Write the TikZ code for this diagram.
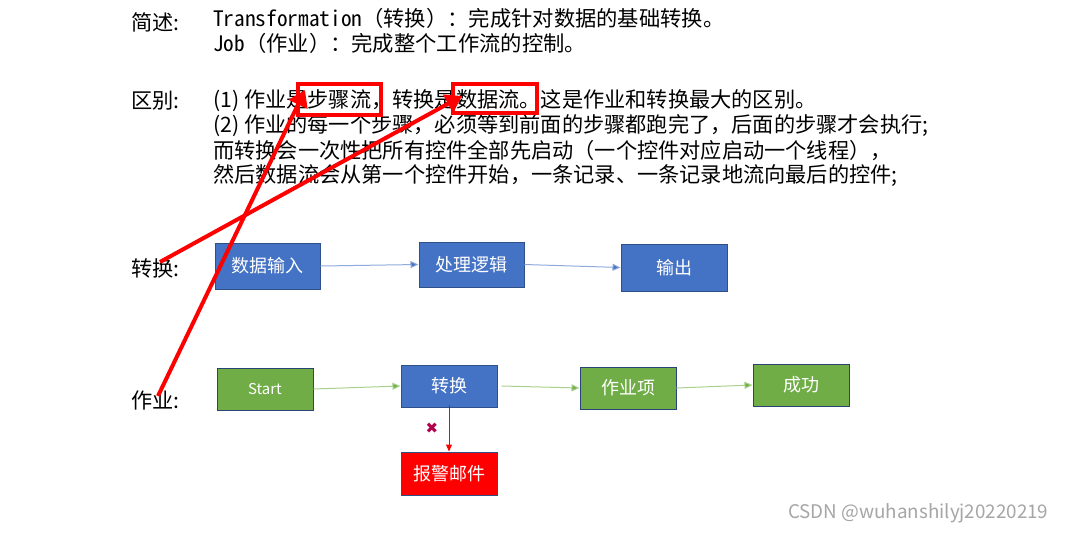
\documentclass[tikz,border=0pt]{standalone}
\usepackage{fontspec}
\setmainfont{Noto Sans CJK SC}
\newfontfamily\monocjk{Noto Sans Mono CJK SC}
\newfontfamily\djv{DejaVu Sans}
\usetikzlibrary{arrows.meta}
\definecolor{bl}{HTML}{4472C4}
\definecolor{gr}{HTML}{70AD47}
\definecolor{bll}{HTML}{8FAADC}
\definecolor{grl}{HTML}{A9D18E}
\tikzset{
 box/.style={draw=bl!70!black,line width=1pt,text=white,font=\fontsize{18}{18}\selectfont,inner sep=0pt},
 bbox/.style={box,fill=bl},
 gbox/.style={box,fill=gr,draw=bl!60!black},
 rbox/.style={box,fill=red},
 txt/.style={anchor=west,inner sep=0pt,font=\fontsize{21.2}{21.2}\selectfont},
 mtxt/.style={anchor=west,inner sep=0pt,font=\monocjk\fontsize{21.3}{21.3}\selectfont},
 barr/.style={draw=bll,line width=1pt,-{Triangle[length=8pt,width=7pt,fill=bl]}},
 garr/.style={draw=grl,line width=1pt,-{Triangle[length=8pt,width=7pt,fill=gr]}},
 redarr/.style={draw=red,line width=4pt,-{Triangle[length=16pt,width=20pt]}},
 hl/.style={draw=red,line width=4pt}
}
\begin{document}
\begin{tikzpicture}[x=1pt,y=-1pt]
\useasboundingbox[fill=white] (0,0) rectangle (1071,533);
\node[txt] (s1) at (131,22) {简述:};
\node[mtxt] (t1) at (213,18) {Transformation（转换）：完成针对数据的基础转换。};
\node[mtxt] (t2) at (213,43) {Job（作业）：完成整个工作流的控制。};
\node[txt] (s2) at (131,101) {区别:};
\node[txt] (l1) at (213,101) {(1) 作业是步骤流，转换是数据流。这是作业和转换最大的区别。};
\node[txt] (l2) at (213,126) {(2) 作业的每一个步骤，必须等到前面的步骤都跑完了，后面的步骤才会执行;};
\node[txt] (l3) at (213,151) {而转换会一次性把所有控件全部先启动（一个控件对应启动一个线程），};
\node[txt] (l4) at (213,176) {然后数据流会从第一个控件开始，一条记录、一条记录地流向最后的控件;};
\node[txt] (lz) at (131,268) {转换:};
\node[txt] (lj) at (131,400) {作业:};
\node[bbox,minimum width=105pt,minimum height=46pt] (a1) at (267.5,266) {数据输入};
\node[bbox,minimum width=105pt,minimum height=45pt] (a2) at (471.5,264.5) {处理逻辑};
\node[bbox,minimum width=106pt,minimum height=47pt] (a3) at (674,267.5) {输出};
\node[gbox,minimum width=96pt,minimum height=42pt] (b1) at (265,389) {\fontsize{15}{15}\selectfont Start};
\node[bbox,minimum width=96pt,minimum height=42pt] (b2) at (449,386) {转换};
\node[gbox,minimum width=96pt,minimum height=42pt] (b3) at (628,388) {作业项};
\node[gbox,minimum width=96pt,minimum height=42pt] (b4) at (801,385) {成功};
\node[rbox,minimum width=96pt,minimum height=43pt] (b5) at (449,473.5) {报警邮件};
\draw[barr] (a1.east) -- (a2.west);
\draw[barr] (a2.east) -- (a3.west);
\draw[garr] (b1.east) -- (b2.west);
\draw[garr] ([xshift=4pt]b2.east) -- (b3.west);
\draw[garr] (b3.east) -- (b4.west);
\draw[red,line width=1pt,-{Triangle[length=7pt,width=6pt]}] ([yshift=3pt]b2.south) -- (b5.north);
\node[font=\djv\fontsize{15}{15}\selectfont,text=red!70!blue] (x) at (432,428) {✖};
\node[hl,minimum width=83pt,minimum height=31pt,inner sep=0pt] (h1) at (339.5,99) {};
\node[hl,minimum width=84pt,minimum height=29pt,inner sep=0pt] (h2) at (495,98.5) {};
\coordinate (p1) at (160,262);
\coordinate (p2) at (158,396);
\coordinate (q1) at (462,96);
\coordinate (q2) at (305,90);
\draw[redarr] (p1) -- (q1);
\draw[redarr] (p2) -- (q2);
\node[anchor=west,inner sep=0pt,text=gray!70,font=\fontsize{18.8}{18.8}\selectfont] (wm) at (788,513) {CSDN @wuhanshilyj20220219};
\end{tikzpicture}
\end{document}
